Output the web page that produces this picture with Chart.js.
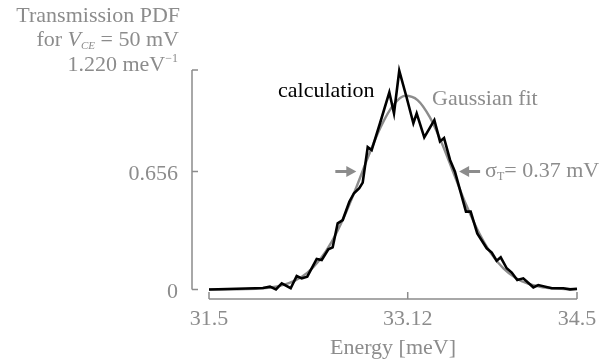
<!DOCTYPE html>
<html lang="en">
<head>
    <title>Transmission PDF</title>
    <meta charset="utf-8">
    <script src="https://cdn.jsdelivr.net/npm/chart.js"></script>
    <style>
        html, body { margin: 0; padding: 0; background: #fff; }
        #wrap { width: 616px; height: 363px; }
    </style>
</head>
<body>
    <div id="wrap"><canvas id="pdfChart"></canvas></div>

    <script>
        // black "calculation" curve
        var calcEnergy = [31.5, 31.875, 31.94, 31.997, 32.046, 32.093, 32.166, 32.215, 32.256, 32.301,
            32.378, 32.419, 32.473, 32.508, 32.549, 32.59, 32.644, 32.682, 32.725, 32.753,
            32.794, 32.826, 32.894, 32.97, 33.008, 33.051, 33.11, 33.166, 33.193, 33.255,
            33.337, 33.383, 33.416, 33.465, 33.505, 33.595, 33.633, 33.687, 33.764, 33.805,
            33.845, 33.878, 33.927, 33.968, 34.013, 34.062, 34.144, 34.184, 34.294, 34.388,
            34.443, 34.5];
        var calcValue = [0, 0.007, 0.008, 0.016, 0.001, 0.034, 0.007, 0.075, 0.062, 0.071,
            0.170, 0.164, 0.223, 0.234, 0.368, 0.386, 0.488, 0.535, 0.563, 0.594,
            0.791, 0.775, 0.924, 1.096, 0.979, 1.216, 1.07, 0.924, 0.979, 0.846,
            0.942, 0.823, 0.842, 0.72, 0.655, 0.433, 0.433, 0.312, 0.229, 0.205,
            0.16, 0.179, 0.118, 0.094, 0.053, 0.062, 0.012, 0.025, 0.007, 0.007,
            0.001, 0.004];

        // grey gaussian fit curve
        var gaussEnergy = [31.5, 31.6, 31.7, 31.8, 31.9, 32.0, 32.1, 32.2, 32.3, 32.4,
            32.5, 32.6, 32.7, 32.8, 32.9, 33.0, 33.1, 33.2, 33.3, 33.4,
            33.5, 33.6, 33.7, 33.8, 33.9, 34.0, 34.1, 34.2, 34.3, 34.4, 34.5];
        var gaussValue = [0.0001, 0.0002, 0.0007, 0.0019, 0.0047, 0.011, 0.024, 0.049, 0.0925, 0.162,
            0.265, 0.402, 0.566, 0.742, 0.904, 1.023, 1.077, 1.053, 0.958, 0.810,
            0.636, 0.465, 0.316, 0.199, 0.117, 0.064, 0.032, 0.015, 0.0067, 0.0027, 0.001];

        var xTicks = [31.5, 33.12, 34.5];
        var yTicks = [0, 0.656, 1.22];
        var sigmaLeft = 32.75, sigmaRight = 33.49;

        var grey = '#8c8c8c';
        var serif = '"Liberation Serif", "Times New Roman", serif';

        function toPoints(xs, ys) {
            return xs.map(function (x, i) { return { x: x, y: ys[i] }; });
        }

        // draws text pieces (for sub/superscripts) ending at x, or starting at x
        function drawRuns(ctx, runs, x, y, alignRight) {
            var total = 0;
            runs.forEach(function (r) { ctx.font = r.font; total += ctx.measureText(r.text).width; });
            var cx = alignRight ? x - total : x;
            ctx.textAlign = 'left';
            ctx.textBaseline = 'alphabetic';
            runs.forEach(function (r) {
                ctx.font = r.font;
                ctx.fillStyle = r.color || grey;
                ctx.fillText(r.text, cx, y + (r.dy || 0));
                cx += ctx.measureText(r.text).width;
            });
        }

        function arrow(ctx, x0, x1, y) {
            var dir = x1 > x0 ? 1 : -1;
            ctx.strokeStyle = grey;
            ctx.fillStyle = grey;
            ctx.lineWidth = 3;
            ctx.beginPath();
            ctx.moveTo(x0, y);
            ctx.lineTo(x1 - dir * 8, y);
            ctx.stroke();
            ctx.beginPath();
            ctx.moveTo(x1, y);
            ctx.lineTo(x1 - dir * 10, y - 5.5);
            ctx.lineTo(x1 - dir * 10, y + 5.5);
            ctx.closePath();
            ctx.fill();
        }

        var axesAndNotes = {
            id: 'axesAndNotes',
            afterDraw: function (chart) {
                var ctx = chart.ctx;
                var xs = chart.scales.x, ys = chart.scales.y;
                var f22 = '22px ' + serif;
                var f12 = '12px ' + serif;
                ctx.save();

                // y axis, offset to the left
                var ax = xs.left - 17;
                ctx.strokeStyle = grey;
                ctx.lineWidth = 1.5;
                ctx.beginPath();
                ctx.moveTo(ax, ys.getPixelForValue(yTicks[yTicks.length - 1]));
                ctx.lineTo(ax, ys.getPixelForValue(0));
                yTicks.forEach(function (v) {
                    var p = ys.getPixelForValue(v);
                    ctx.moveTo(ax, p);
                    ctx.lineTo(ax + 6, p);
                });
                // x axis, offset below
                var ay = ys.getPixelForValue(0) + 9.5;
                ctx.moveTo(xs.getPixelForValue(xTicks[0]), ay);
                ctx.lineTo(xs.getPixelForValue(xTicks[xTicks.length - 1]), ay);
                xTicks.forEach(function (v) {
                    var p = xs.getPixelForValue(v);
                    ctx.moveTo(p, ay);
                    ctx.lineTo(p, ay - 7);
                });
                ctx.stroke();

                // y labels
                var lx = ax - 14;
                drawRuns(ctx, [{ text: '0', font: f22 }], lx, ys.getPixelForValue(0) + 8, true);
                drawRuns(ctx, [{ text: '0.656', font: f22 }], lx, ys.getPixelForValue(0.656) + 9, true);
                drawRuns(ctx, [{ text: '1.220 meV', font: f22 }, { text: '\u22121', font: f12, dy: -9 }],
                    lx, ys.getPixelForValue(1.22) + 1, true);
                drawRuns(ctx, [{ text: 'for ', font: f22 }, { text: 'V', font: 'italic 22px ' + serif },
                    { text: 'CE', font: 'italic 11px ' + serif, dy: 3 }, { text: ' = 50 mV', font: f22 }],
                    lx + 1, 46, true);
                drawRuns(ctx, [{ text: 'Transmission PDF', font: f22 }], lx + 2, 22, true);

                // annotations
                drawRuns(ctx, [{ text: 'calculation', font: f22, color: '#000' }], 278, 97, false);
                drawRuns(ctx, [{ text: 'Gaussian fit', font: f22 }], 432, 104.5, false);
                var sy = ys.getPixelForValue(0.656);
                var pl = xs.getPixelForValue(sigmaLeft) - 6;
                var pr = xs.getPixelForValue(sigmaRight) + 6;
                arrow(ctx, pl - 21, pl, sy);
                arrow(ctx, pr + 21, pr, sy);
                drawRuns(ctx, [{ text: '\u03c3', font: f22 }, { text: 'T', font: f12, dy: 3 },
                    { text: '= 0.37 mV', font: f22 }], pr + 26, sy + 6, false);
                ctx.restore();
            }
        };

        var ctx1 = document.getElementById('pdfChart').getContext('2d');
        var pdfChart = new Chart(ctx1, {
            type: 'line',
            data: {
                datasets: [{
                    label: 'calculation',
                    data: toPoints(calcEnergy, calcValue),
                    borderColor: '#000',
                    borderWidth: 2.6,
                    pointRadius: 0,
                    tension: 0,
                    clip: false
                }, {
                    label: 'Gaussian fit',
                    data: toPoints(gaussEnergy, gaussValue),
                    borderColor: grey,
                    borderWidth: 2.4,
                    pointRadius: 0,
                    cubicInterpolationMode: 'monotone',
                    clip: false
                }]
            },
            options: {
                responsive: true,
                maintainAspectRatio: false,
                animation: false,
                layout: { padding: { left: 0, right: 39, top: 70, bottom: 0 } },
                plugins: {
                    legend: { display: false },
                    tooltip: { enabled: false }
                },
                scales: {
                    x: {
                        type: 'linear',
                        min: 31.5,
                        max: 34.5,
                        afterBuildTicks: function (scale) {
                            scale.ticks = xTicks.map(function (v) { return { value: v }; });
                        },
                        afterFit: function (scale) { scale.height = 73.5; },
                        grid: { display: false, drawTicks: false },
                        border: { display: false },
                        ticks: {
                            padding: 17,
                            color: grey,
                            maxRotation: 0,
                            autoSkip: false,
                            font: { family: serif, size: 22 },
                            callback: function (v) { return String(v); }
                        },
                        title: {
                            display: true,
                            text: 'Energy [meV]',
                            color: grey,
                            font: { family: serif, size: 22 },
                            padding: { top: 0, bottom: 2 }
                        }
                    },
                    y: {
                        min: 0,
                        max: 1.22,
                        afterFit: function (scale) { scale.width = 209; },
                        grid: { display: false },
                        border: { display: false },
                        ticks: { display: false }
                    }
                }
            },
            plugins: [axesAndNotes]
        });
    </script>
</body>
</html>
